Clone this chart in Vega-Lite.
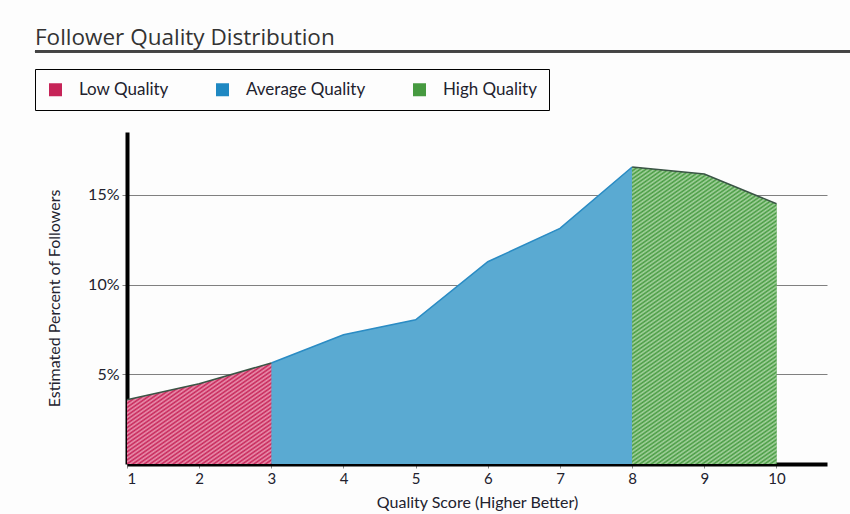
{
  "$schema": "https://vega.github.io/schema/vega-lite/v6.json",
  "description": "Follower quality distribution as a segmented area chart.",
  "width": 700,
  "height": 332,
  "autosize": {"type": "none"},
  "padding": {"left": 127, "top": 132, "right": 23, "bottom": 50},
  "background": "#fdfdfd",
  "title": {
    "text": "Follower Quality Distribution",
    "anchor": "start",
    "frame": "group",
    "dx": -92,
    "offset": 1,
    "font": "Open Sans",
    "fontSize": 22.5,
    "fontWeight": 400,
    "color": "#333333"
  },
  "config": {
    "view": {"stroke": null},
    "font": "Lato",
    "axis": {
      "labelFont": "Lato",
      "titleFont": "Lato",
      "labelColor": "#22222e",
      "titleColor": "#22222e",
      "titleFontWeight": 400,
      "zindex": 1
    }
  },
  "data": {
    "values": [
      {"score": 1, "pct": 3.58, "group": "Low Quality"},
      {"score": 2, "pct": 4.47, "group": "Low Quality"},
      {"score": 3, "pct": 5.63, "group": "Low Quality"},
      {"score": 3, "pct": 5.63, "group": "Average Quality"},
      {"score": 4, "pct": 7.2, "group": "Average Quality"},
      {"score": 5, "pct": 8.04, "group": "Average Quality"},
      {"score": 6, "pct": 11.27, "group": "Average Quality"},
      {"score": 7, "pct": 13.13, "group": "Average Quality"},
      {"score": 8, "pct": 16.55, "group": "Average Quality"},
      {"score": 8, "pct": 16.55, "group": "High Quality"},
      {"score": 9, "pct": 16.16, "group": "High Quality"},
      {"score": 10, "pct": 14.5, "group": "High Quality"}
    ]
  },
  "layer": [
    {
      "mark": {"type": "area", "opacity": 1},
      "encoding": {
        "x": {
          "field": "score",
          "type": "quantitative",
          "scale": {"domain": [1, 10.7], "nice": false, "zero": false},
          "axis": {
            "title": "Quality Score (Higher Better)",
            "values": [1, 2, 3, 4, 5, 6, 7, 8, 9, 10],
            "format": "d",
            "grid": false,
            "domainColor": "#000000",
            "domainWidth": 4,
            "tickColor": "#888888",
            "tickSize": 4,
            "labelFontSize": 15,
            "labelPadding": 3,
            "titleFontSize": 16,
            "titlePadding": 8
          }
        },
        "y": {
          "field": "pct",
          "type": "quantitative",
          "stack": null,
          "scale": {"domain": [0, 18.5], "nice": false},
          "axis": {
            "title": "Estimated Percent of Followers",
            "values": [5, 10, 15],
            "labelExpr": "datum.value + '%'",
            "grid": true,
            "gridColor": "#808080",
            "gridWidth": 1,
            "gridOpacity": 1,
            "domainColor": "#000000",
            "domainWidth": 4,
            "tickColor": "#888888",
            "tickSize": 5,
            "labelFontSize": 16,
            "labelPadding": 3,
            "titleFontSize": 16,
            "titlePadding": 25
          }
        },
        "color": {
          "field": "group",
          "type": "nominal",
          "scale": {
            "domain": ["Low Quality", "Average Quality", "High Quality"],
            "range": ["#c62458", "#1f88c2", "#469a40"]
          },
          "legend": {
            "title": null,
            "orient": "none",
            "legendX": -92,
            "legendY": -63,
            "direction": "horizontal",
            "strokeColor": "#000000",
            "padding": 12,
            "symbolType": "square",
            "symbolSize": 169,
            "symbolStrokeWidth": 0,
            "symbolOpacity": 1,
            "labelFont": "Lato",
            "labelFontSize": 17,
            "labelColor": "#22222e",
            "labelOffset": 15,
            "columnPadding": 45,
            "labelExpr": "datum.value === 'High Quality' ? datum.label + '\u00a0\u00a0\u00a0\u00a0\u00a0\u00a0\u00a0\u00a0' : datum.label"
          }
        }
      }
    },
    {
      "transform": [{"filter": "datum.group === 'Average Quality'"}],
      "mark": {"type": "area", "opacity": 1, "color": "#5aaad2", "line": {"color": "#2b8cc4", "strokeWidth": 1.5}},
      "encoding": {
        "x": {"field": "score", "type": "quantitative"},
        "y": {"field": "pct", "type": "quantitative", "stack": null}
      }
    },
    {
      "transform": [{"filter": "datum.group === 'Low Quality'"}],
      "mark": {
        "type": "area",
        "opacity": 1,
        "line": {"color": "#3b5546", "strokeWidth": 1.5},
        "color": {
          "gradient": "linear",
          "x1": 0, "y1": 0, "x2": 1, "y2": 1,
          "stops": [
            {"offset": 0, "color": "#c62458"}, {"offset": 0.01, "color": "#ea94b0"},
            {"offset": 0.02, "color": "#c62458"}, {"offset": 0.03, "color": "#ea94b0"},
            {"offset": 0.04, "color": "#c62458"}, {"offset": 0.05, "color": "#ea94b0"},
            {"offset": 0.06, "color": "#c62458"}, {"offset": 0.07, "color": "#ea94b0"},
            {"offset": 0.08, "color": "#c62458"}, {"offset": 0.09, "color": "#ea94b0"},
            {"offset": 0.1, "color": "#c62458"}, {"offset": 0.11, "color": "#ea94b0"},
            {"offset": 0.12, "color": "#c62458"}, {"offset": 0.13, "color": "#ea94b0"},
            {"offset": 0.14, "color": "#c62458"}, {"offset": 0.15, "color": "#ea94b0"},
            {"offset": 0.16, "color": "#c62458"}, {"offset": 0.17, "color": "#ea94b0"},
            {"offset": 0.18, "color": "#c62458"}, {"offset": 0.19, "color": "#ea94b0"},
            {"offset": 0.2, "color": "#c62458"}, {"offset": 0.21, "color": "#ea94b0"},
            {"offset": 0.22, "color": "#c62458"}, {"offset": 0.23, "color": "#ea94b0"},
            {"offset": 0.24, "color": "#c62458"}, {"offset": 0.25, "color": "#ea94b0"},
            {"offset": 0.26, "color": "#c62458"}, {"offset": 0.27, "color": "#ea94b0"},
            {"offset": 0.28, "color": "#c62458"}, {"offset": 0.29, "color": "#ea94b0"},
            {"offset": 0.3, "color": "#c62458"}, {"offset": 0.31, "color": "#ea94b0"},
            {"offset": 0.32, "color": "#c62458"}, {"offset": 0.33, "color": "#ea94b0"},
            {"offset": 0.34, "color": "#c62458"}, {"offset": 0.35, "color": "#ea94b0"},
            {"offset": 0.36, "color": "#c62458"}, {"offset": 0.37, "color": "#ea94b0"},
            {"offset": 0.38, "color": "#c62458"}, {"offset": 0.39, "color": "#ea94b0"},
            {"offset": 0.4, "color": "#c62458"}, {"offset": 0.41, "color": "#ea94b0"},
            {"offset": 0.42, "color": "#c62458"}, {"offset": 0.43, "color": "#ea94b0"},
            {"offset": 0.44, "color": "#c62458"}, {"offset": 0.45, "color": "#ea94b0"},
            {"offset": 0.46, "color": "#c62458"}, {"offset": 0.47, "color": "#ea94b0"},
            {"offset": 0.48, "color": "#c62458"}, {"offset": 0.49, "color": "#ea94b0"},
            {"offset": 0.5, "color": "#c62458"}, {"offset": 0.51, "color": "#ea94b0"},
            {"offset": 0.52, "color": "#c62458"}, {"offset": 0.53, "color": "#ea94b0"},
            {"offset": 0.54, "color": "#c62458"}, {"offset": 0.55, "color": "#ea94b0"},
            {"offset": 0.56, "color": "#c62458"}, {"offset": 0.57, "color": "#ea94b0"},
            {"offset": 0.58, "color": "#c62458"}, {"offset": 0.59, "color": "#ea94b0"},
            {"offset": 0.6, "color": "#c62458"}, {"offset": 0.61, "color": "#ea94b0"},
            {"offset": 0.62, "color": "#c62458"}, {"offset": 0.63, "color": "#ea94b0"},
            {"offset": 0.64, "color": "#c62458"}, {"offset": 0.65, "color": "#ea94b0"},
            {"offset": 0.66, "color": "#c62458"}, {"offset": 0.67, "color": "#ea94b0"},
            {"offset": 0.68, "color": "#c62458"}, {"offset": 0.69, "color": "#ea94b0"},
            {"offset": 0.7, "color": "#c62458"}, {"offset": 0.71, "color": "#ea94b0"},
            {"offset": 0.72, "color": "#c62458"}, {"offset": 0.73, "color": "#ea94b0"},
            {"offset": 0.74, "color": "#c62458"}, {"offset": 0.75, "color": "#ea94b0"},
            {"offset": 0.76, "color": "#c62458"}, {"offset": 0.77, "color": "#ea94b0"},
            {"offset": 0.78, "color": "#c62458"}, {"offset": 0.79, "color": "#ea94b0"},
            {"offset": 0.8, "color": "#c62458"}, {"offset": 0.81, "color": "#ea94b0"},
            {"offset": 0.82, "color": "#c62458"}, {"offset": 0.83, "color": "#ea94b0"},
            {"offset": 0.84, "color": "#c62458"}, {"offset": 0.85, "color": "#ea94b0"},
            {"offset": 0.86, "color": "#c62458"}, {"offset": 0.87, "color": "#ea94b0"},
            {"offset": 0.88, "color": "#c62458"}, {"offset": 0.89, "color": "#ea94b0"},
            {"offset": 0.9, "color": "#c62458"}, {"offset": 0.91, "color": "#ea94b0"},
            {"offset": 0.92, "color": "#c62458"}, {"offset": 0.93, "color": "#ea94b0"},
            {"offset": 0.94, "color": "#c62458"}, {"offset": 0.95, "color": "#ea94b0"},
            {"offset": 0.96, "color": "#c62458"}, {"offset": 0.97, "color": "#ea94b0"},
            {"offset": 0.98, "color": "#c62458"}, {"offset": 0.99, "color": "#ea94b0"},
            {"offset": 1, "color": "#c62458"}
          ]
        }
      },
      "encoding": {
        "x": {"field": "score", "type": "quantitative"},
        "y": {"field": "pct", "type": "quantitative", "stack": null}
      }
    },
    {
      "transform": [{"filter": "datum.group === 'High Quality'"}],
      "mark": {
        "type": "area",
        "opacity": 1,
        "line": {"color": "#3b5546", "strokeWidth": 1.5},
        "color": {
          "gradient": "linear",
          "x1": 0, "y1": 0, "x2": 0.41, "y2": 1.2,
          "stops": [
            {"offset": 0, "color": "#469a40"}, {"offset": 0.005, "color": "#a8d4a2"},
            {"offset": 0.01, "color": "#469a40"}, {"offset": 0.015, "color": "#a8d4a2"},
            {"offset": 0.02, "color": "#469a40"}, {"offset": 0.025, "color": "#a8d4a2"},
            {"offset": 0.03, "color": "#469a40"}, {"offset": 0.035, "color": "#a8d4a2"},
            {"offset": 0.04, "color": "#469a40"}, {"offset": 0.045, "color": "#a8d4a2"},
            {"offset": 0.05, "color": "#469a40"}, {"offset": 0.055, "color": "#a8d4a2"},
            {"offset": 0.06, "color": "#469a40"}, {"offset": 0.065, "color": "#a8d4a2"},
            {"offset": 0.07, "color": "#469a40"}, {"offset": 0.075, "color": "#a8d4a2"},
            {"offset": 0.08, "color": "#469a40"}, {"offset": 0.085, "color": "#a8d4a2"},
            {"offset": 0.09, "color": "#469a40"}, {"offset": 0.095, "color": "#a8d4a2"},
            {"offset": 0.1, "color": "#469a40"}, {"offset": 0.105, "color": "#a8d4a2"},
            {"offset": 0.11, "color": "#469a40"}, {"offset": 0.115, "color": "#a8d4a2"},
            {"offset": 0.12, "color": "#469a40"}, {"offset": 0.125, "color": "#a8d4a2"},
            {"offset": 0.13, "color": "#469a40"}, {"offset": 0.135, "color": "#a8d4a2"},
            {"offset": 0.14, "color": "#469a40"}, {"offset": 0.145, "color": "#a8d4a2"},
            {"offset": 0.15, "color": "#469a40"}, {"offset": 0.155, "color": "#a8d4a2"},
            {"offset": 0.16, "color": "#469a40"}, {"offset": 0.165, "color": "#a8d4a2"},
            {"offset": 0.17, "color": "#469a40"}, {"offset": 0.175, "color": "#a8d4a2"},
            {"offset": 0.18, "color": "#469a40"}, {"offset": 0.185, "color": "#a8d4a2"},
            {"offset": 0.19, "color": "#469a40"}, {"offset": 0.195, "color": "#a8d4a2"},
            {"offset": 0.2, "color": "#469a40"}, {"offset": 0.205, "color": "#a8d4a2"},
            {"offset": 0.21, "color": "#469a40"}, {"offset": 0.215, "color": "#a8d4a2"},
            {"offset": 0.22, "color": "#469a40"}, {"offset": 0.225, "color": "#a8d4a2"},
            {"offset": 0.23, "color": "#469a40"}, {"offset": 0.235, "color": "#a8d4a2"},
            {"offset": 0.24, "color": "#469a40"}, {"offset": 0.245, "color": "#a8d4a2"},
            {"offset": 0.25, "color": "#469a40"}, {"offset": 0.255, "color": "#a8d4a2"},
            {"offset": 0.26, "color": "#469a40"}, {"offset": 0.265, "color": "#a8d4a2"},
            {"offset": 0.27, "color": "#469a40"}, {"offset": 0.275, "color": "#a8d4a2"},
            {"offset": 0.28, "color": "#469a40"}, {"offset": 0.285, "color": "#a8d4a2"},
            {"offset": 0.29, "color": "#469a40"}, {"offset": 0.295, "color": "#a8d4a2"},
            {"offset": 0.3, "color": "#469a40"}, {"offset": 0.305, "color": "#a8d4a2"},
            {"offset": 0.31, "color": "#469a40"}, {"offset": 0.315, "color": "#a8d4a2"},
            {"offset": 0.32, "color": "#469a40"}, {"offset": 0.325, "color": "#a8d4a2"},
            {"offset": 0.33, "color": "#469a40"}, {"offset": 0.335, "color": "#a8d4a2"},
            {"offset": 0.34, "color": "#469a40"}, {"offset": 0.345, "color": "#a8d4a2"},
            {"offset": 0.35, "color": "#469a40"}, {"offset": 0.355, "color": "#a8d4a2"},
            {"offset": 0.36, "color": "#469a40"}, {"offset": 0.365, "color": "#a8d4a2"},
            {"offset": 0.37, "color": "#469a40"}, {"offset": 0.375, "color": "#a8d4a2"},
            {"offset": 0.38, "color": "#469a40"}, {"offset": 0.385, "color": "#a8d4a2"},
            {"offset": 0.39, "color": "#469a40"}, {"offset": 0.395, "color": "#a8d4a2"},
            {"offset": 0.4, "color": "#469a40"}, {"offset": 0.405, "color": "#a8d4a2"},
            {"offset": 0.41, "color": "#469a40"}, {"offset": 0.415, "color": "#a8d4a2"},
            {"offset": 0.42, "color": "#469a40"}, {"offset": 0.425, "color": "#a8d4a2"},
            {"offset": 0.43, "color": "#469a40"}, {"offset": 0.435, "color": "#a8d4a2"},
            {"offset": 0.44, "color": "#469a40"}, {"offset": 0.445, "color": "#a8d4a2"},
            {"offset": 0.45, "color": "#469a40"}, {"offset": 0.455, "color": "#a8d4a2"},
            {"offset": 0.46, "color": "#469a40"}, {"offset": 0.465, "color": "#a8d4a2"},
            {"offset": 0.47, "color": "#469a40"}, {"offset": 0.475, "color": "#a8d4a2"},
            {"offset": 0.48, "color": "#469a40"}, {"offset": 0.485, "color": "#a8d4a2"},
            {"offset": 0.49, "color": "#469a40"}, {"offset": 0.495, "color": "#a8d4a2"},
            {"offset": 0.5, "color": "#469a40"}, {"offset": 0.505, "color": "#a8d4a2"},
            {"offset": 0.51, "color": "#469a40"}, {"offset": 0.515, "color": "#a8d4a2"},
            {"offset": 0.52, "color": "#469a40"}, {"offset": 0.525, "color": "#a8d4a2"},
            {"offset": 0.53, "color": "#469a40"}, {"offset": 0.535, "color": "#a8d4a2"},
            {"offset": 0.54, "color": "#469a40"}, {"offset": 0.545, "color": "#a8d4a2"},
            {"offset": 0.55, "color": "#469a40"}, {"offset": 0.555, "color": "#a8d4a2"},
            {"offset": 0.56, "color": "#469a40"}, {"offset": 0.565, "color": "#a8d4a2"},
            {"offset": 0.57, "color": "#469a40"}, {"offset": 0.575, "color": "#a8d4a2"},
            {"offset": 0.58, "color": "#469a40"}, {"offset": 0.585, "color": "#a8d4a2"},
            {"offset": 0.59, "color": "#469a40"}, {"offset": 0.595, "color": "#a8d4a2"},
            {"offset": 0.6, "color": "#469a40"}, {"offset": 0.605, "color": "#a8d4a2"},
            {"offset": 0.61, "color": "#469a40"}, {"offset": 0.615, "color": "#a8d4a2"},
            {"offset": 0.62, "color": "#469a40"}, {"offset": 0.625, "color": "#a8d4a2"},
            {"offset": 0.63, "color": "#469a40"}, {"offset": 0.635, "color": "#a8d4a2"},
            {"offset": 0.64, "color": "#469a40"}, {"offset": 0.645, "color": "#a8d4a2"},
            {"offset": 0.65, "color": "#469a40"}, {"offset": 0.655, "color": "#a8d4a2"},
            {"offset": 0.66, "color": "#469a40"}, {"offset": 0.665, "color": "#a8d4a2"},
            {"offset": 0.67, "color": "#469a40"}, {"offset": 0.675, "color": "#a8d4a2"},
            {"offset": 0.68, "color": "#469a40"}, {"offset": 0.685, "color": "#a8d4a2"},
            {"offset": 0.69, "color": "#469a40"}, {"offset": 0.695, "color": "#a8d4a2"},
            {"offset": 0.7, "color": "#469a40"}, {"offset": 0.705, "color": "#a8d4a2"},
            {"offset": 0.71, "color": "#469a40"}, {"offset": 0.715, "color": "#a8d4a2"},
            {"offset": 0.72, "color": "#469a40"}, {"offset": 0.725, "color": "#a8d4a2"},
            {"offset": 0.73, "color": "#469a40"}, {"offset": 0.735, "color": "#a8d4a2"},
            {"offset": 0.74, "color": "#469a40"}, {"offset": 0.745, "color": "#a8d4a2"},
            {"offset": 0.75, "color": "#469a40"}, {"offset": 0.755, "color": "#a8d4a2"},
            {"offset": 0.76, "color": "#469a40"}, {"offset": 0.765, "color": "#a8d4a2"},
            {"offset": 0.77, "color": "#469a40"}, {"offset": 0.775, "color": "#a8d4a2"},
            {"offset": 0.78, "color": "#469a40"}, {"offset": 0.785, "color": "#a8d4a2"},
            {"offset": 0.79, "color": "#469a40"}, {"offset": 0.795, "color": "#a8d4a2"},
            {"offset": 0.8, "color": "#469a40"}, {"offset": 0.805, "color": "#a8d4a2"},
            {"offset": 0.81, "color": "#469a40"}, {"offset": 0.815, "color": "#a8d4a2"},
            {"offset": 0.82, "color": "#469a40"}, {"offset": 0.825, "color": "#a8d4a2"},
            {"offset": 0.83, "color": "#469a40"}, {"offset": 0.835, "color": "#a8d4a2"},
            {"offset": 0.84, "color": "#469a40"}, {"offset": 0.845, "color": "#a8d4a2"},
            {"offset": 0.85, "color": "#469a40"}, {"offset": 0.855, "color": "#a8d4a2"},
            {"offset": 0.86, "color": "#469a40"}, {"offset": 0.865, "color": "#a8d4a2"},
            {"offset": 0.87, "color": "#469a40"}, {"offset": 0.875, "color": "#a8d4a2"},
            {"offset": 0.88, "color": "#469a40"}, {"offset": 0.885, "color": "#a8d4a2"},
            {"offset": 0.89, "color": "#469a40"}, {"offset": 0.895, "color": "#a8d4a2"},
            {"offset": 0.9, "color": "#469a40"}, {"offset": 0.905, "color": "#a8d4a2"},
            {"offset": 0.91, "color": "#469a40"}, {"offset": 0.915, "color": "#a8d4a2"},
            {"offset": 0.92, "color": "#469a40"}, {"offset": 0.925, "color": "#a8d4a2"},
            {"offset": 0.93, "color": "#469a40"}, {"offset": 0.935, "color": "#a8d4a2"},
            {"offset": 0.94, "color": "#469a40"}, {"offset": 0.945, "color": "#a8d4a2"},
            {"offset": 0.95, "color": "#469a40"}, {"offset": 0.955, "color": "#a8d4a2"},
            {"offset": 0.96, "color": "#469a40"}, {"offset": 0.965, "color": "#a8d4a2"},
            {"offset": 0.97, "color": "#469a40"}, {"offset": 0.975, "color": "#a8d4a2"},
            {"offset": 0.98, "color": "#469a40"}, {"offset": 0.985, "color": "#a8d4a2"},
            {"offset": 0.99, "color": "#469a40"}, {"offset": 0.995, "color": "#a8d4a2"},
            {"offset": 1, "color": "#469a40"}
          ]
        }
      },
      "encoding": {
        "x": {"field": "score", "type": "quantitative"},
        "y": {"field": "pct", "type": "quantitative", "stack": null}
      }
    },
    {
      "mark": {"type": "rule", "color": "#444444", "strokeWidth": 2},
      "encoding": {
        "x": {"datum": -0.275, "type": "quantitative", "scale": {"domain": [1, 10.7], "nice": false, "zero": false}},
        "x2": {"datum": 11.02},
        "y": {"datum": 23.0, "type": "quantitative", "scale": {"domain": [0, 18.5], "nice": false}}
      }
    }
  ]
}
